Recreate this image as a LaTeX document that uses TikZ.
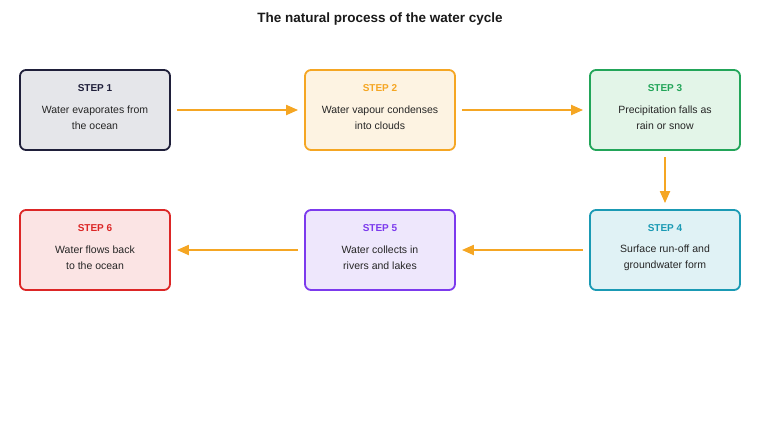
\documentclass[tikz,border=0pt]{standalone}
\usepackage{fontspec}
\setmainfont{Liberation Sans}
\usetikzlibrary{arrows.meta}
\definecolor{c1}{HTML}{1F1F3A}\definecolor{f1}{HTML}{E5E6EA}
\definecolor{c2}{HTML}{F5A623}\definecolor{f2}{HTML}{FDF3E2}
\definecolor{c3}{HTML}{22A559}\definecolor{f3}{HTML}{E3F5E8}
\definecolor{c4}{HTML}{1A9AB4}\definecolor{f4}{HTML}{E0F2F5}
\definecolor{c5}{HTML}{7C3AED}\definecolor{f5}{HTML}{EEE7FC}
\definecolor{c6}{HTML}{DC2626}\definecolor{f6}{HTML}{FBE4E4}
\tikzset{stepbox/.style={draw=#1, line width=1.8pt, rounded corners=6pt, minimum width=150pt, minimum height=80pt, inner sep=0pt},
 lbl/.style={font=\bfseries\fontsize{10}{12}\selectfont},
 body/.style={font=\fontsize{10.5}{16}\selectfont, align=center, text=black!85},
 arr/.style={draw=c2, line width=2pt, -{Triangle[length=12pt,width=10pt]}}}
\begin{document}
\begin{tikzpicture}[x=1pt,y=-1pt]
\useasboundingbox (0,0) rectangle (760,440);
\node[font=\bfseries\fontsize{13.5}{16}\selectfont, text=black!90] (t) at (380,19) {The natural process of the water cycle};
\newcommand\stepnode[7]{%
 \node[stepbox=#4, fill=#5] (#1) at (#2,#3) {};
 \node[lbl, text=#4] (#1l) at (#2,#3-22) {#6};
 \node[body] (#1b) at (#2,#3+8) {#7};}
\stepnode{s1}{95}{110}{c1}{f1}{STEP 1}{Water evaporates from\\the ocean}
\stepnode{s2}{380}{110}{c2}{f2}{STEP 2}{Water vapour condenses\\into clouds}
\stepnode{s3}{665}{110}{c3}{f3}{STEP 3}{Precipitation falls as\\rain or snow}
\stepnode{s4}{665}{250}{c4}{f4}{STEP 4}{Surface run-off and\\groundwater form}
\stepnode{s5}{380}{250}{c5}{f5}{STEP 5}{Water collects in\\rivers and lakes}
\stepnode{s6}{95}{250}{c6}{f6}{STEP 6}{Water flows back\\to the ocean}
\draw[arr] ([xshift=6pt]s1.east) -- ([xshift=-6pt]s2.west);
\draw[arr] ([xshift=6pt]s2.east) -- ([xshift=-6pt]s3.west);
\draw[arr] ([yshift=-6pt]s3.south) -- ([yshift=6pt]s4.north);
\draw[arr] ([xshift=-6pt]s4.west) -- ([xshift=6pt]s5.east);
\draw[arr] ([xshift=-6pt]s5.west) -- ([xshift=6pt]s6.east);
\end{tikzpicture}
\end{document}
